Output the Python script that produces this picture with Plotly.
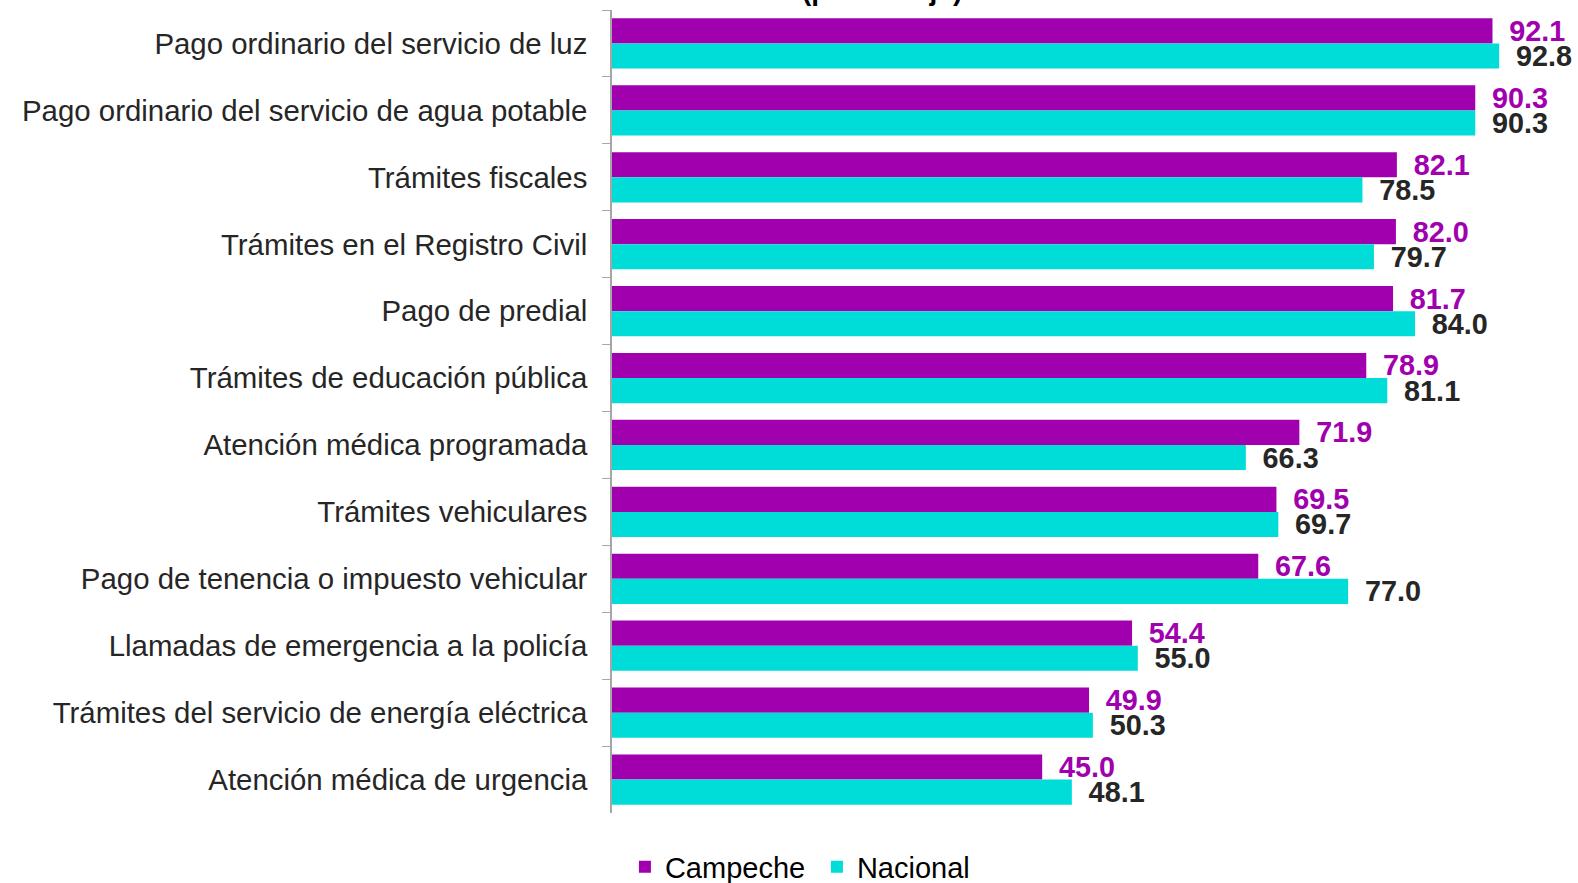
import plotly.graph_objects as go

categories = [
    "Pago ordinario del servicio de luz",
    "Pago ordinario del servicio de agua potable",
    "Trámites fiscales",
    "Trámites en el Registro Civil",
    "Pago de predial",
    "Trámites de educación pública",
    "Atención médica programada",
    "Trámites vehiculares",
    "Pago de tenencia o impuesto vehicular",
    "Llamadas de emergencia a la policía",
    "Trámites del servicio de energía eléctrica",
    "Atención médica de urgencia",
]
campeche = [92.1, 90.3, 82.1, 82.0, 81.7, 78.9, 71.9, 69.5, 67.6, 54.4, 49.9, 45.0]
nacional = [92.8, 90.3, 78.5, 79.7, 84.0, 81.1, 66.3, 69.7, 77.0, 55.0, 50.3, 48.1]

PURPLE = "#A100AE"
CYAN = "#00DCD8"
DARK = "#262626"
FONT = "Liberation Sans, Arial, sans-serif"

fig = go.Figure()
fig.add_trace(go.Bar(
    y=categories, x=campeche, orientation="h", name="Campeche",
    marker=dict(color=PURPLE, line=dict(width=0)),
    text=[f"{v:.1f}" for v in campeche], textposition="outside",
    texttemplate=" \u2009%{text}", constraintext="none",
    textfont=dict(family=FONT, size=28.8, color=PURPLE, weight="bold"),
    cliponaxis=False,
))
fig.add_trace(go.Bar(
    y=categories, x=nacional, orientation="h", name="Nacional",
    marker=dict(color=CYAN, line=dict(width=0)),
    text=[f"{v:.1f}" for v in nacional], textposition="outside",
    texttemplate=" \u2009%{text}", constraintext="none",
    textfont=dict(family=FONT, size=28.8, color=DARK, weight="bold"),
    cliponaxis=False,
))

fig.update_layout(
    width=1578, height=883,
    margin=dict(l=612, r=9.5, t=10, b=70, autoexpand=False),
    barmode="group", bargap=0.25, bargroupgap=0,
    plot_bgcolor="white", paper_bgcolor="white",
    font=dict(family=FONT, size=29.4, color=DARK),
    showlegend=True,
    legend=dict(orientation="h", xref="container", yref="container",
                x=0.5177, xanchor="center", y=0.0181, yanchor="middle",
                font=dict(size=29, color="black"), itemwidth=30, entrywidth=147,
                traceorder="normal"),
    xaxis=dict(range=[0, 100], visible=False, showgrid=False, zeroline=False),
    yaxis=dict(autorange="reversed", showline=True, linecolor="#A6A6A6", linewidth=1.5,
               ticks="outside", ticklen=8, tickcolor="#A6A6A6", showgrid=False,
               tickson="boundaries", ticklabelstandoff=17,
               tickfont=dict(size=29.4, color=DARK)),
)
fig.add_annotation(text="(porcentaje)", xref="paper", yref="paper", x=0.1966, y=1.0,
                   yanchor="bottom", showarrow=False, yshift=2,
                   font=dict(size=28, color="black", weight="bold"))

fig.write_html("out.html", config={"displayModeBar": False},
               post_script="document.body.style.margin='0px';document.body.style.overflow='hidden';")
